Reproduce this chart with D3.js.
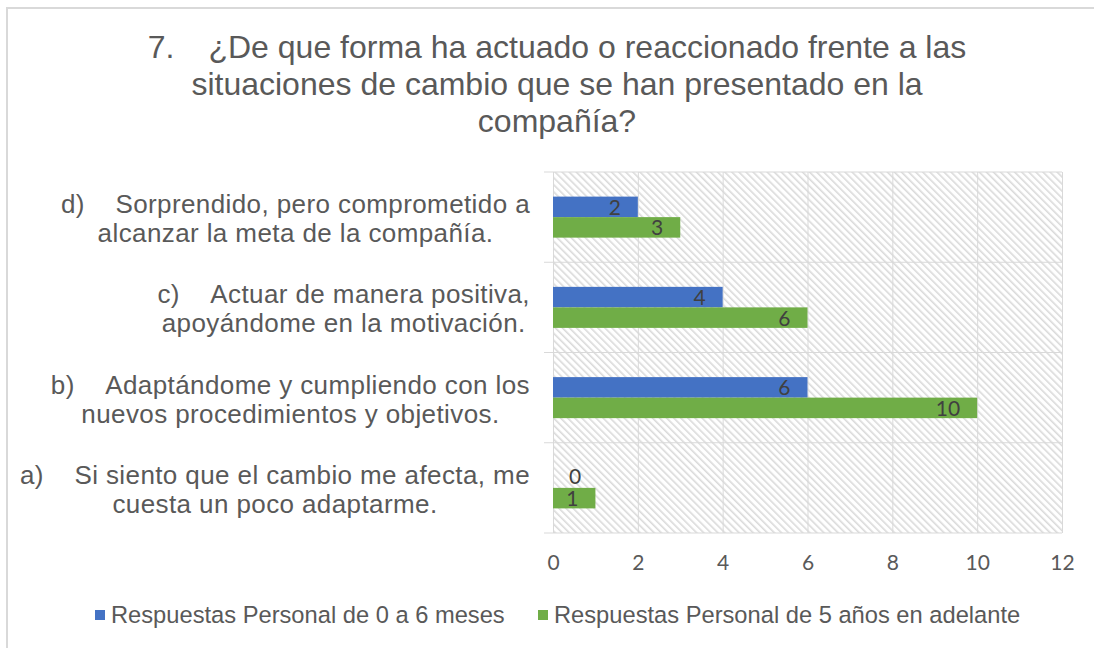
<!DOCTYPE html>
<html>
<head>
<meta charset="utf-8">
<script src="https://cdn.jsdelivr.net/npm/d3@7"></script>
<style>
  body { margin:0; background:#fff; }
  svg { display:block; }
  text { font-family: "Liberation Sans", Arial, sans-serif; }
  .num { font-family: Lato, "Liberation Sans", sans-serif; }
</style>
</head>
<body>
<div id="canvas"></div>
<script>
// data
var categories = ['a', 'b', 'c', 'd'];
var categoryLabels = [
    ['a)\u00a0\u00a0\u00a0\u00a0Si siento que el cambio me afecta, me', 'cuesta un poco adaptarme.'],
    ['b)\u00a0\u00a0\u00a0\u00a0Adaptándome y cumpliendo con los', 'nuevos procedimientos y objetivos.'],
    ['c)\u00a0\u00a0\u00a0\u00a0Actuar de manera positiva,', 'apoyándome en la motivación.'],
    ['d)\u00a0\u00a0\u00a0\u00a0Sorprendido, pero comprometido a', 'alcanzar la meta de la compañía.']
];
var seriesNames = ['Respuestas Personal de 0 a 6 meses', 'Respuestas Personal de 5 años en adelante'];
var serieMeses = [0, 6, 4, 2];
var serieAnios = [1, 10, 6, 3];
var xTicks = [0, 2, 4, 6, 8, 10, 12];
var titleLines = ['7.', '¿De que forma ha actuado o reaccionado frente a las',
    'situaciones de cambio que se han presentado en la', 'compañía?'];

var colors = ['#4472C4', '#70AD47'];
var W = 1094, H = 648;
var m = {t:172, r:32, b:115, l:553};

var svg = d3.select('#canvas').append('svg')
    .attr('width', W).attr('height', H);

// hatch pattern for the plot area
var defs = svg.append('defs');
var pat = defs.append('pattern')
    .attr('id', 'hatch')
    .attr('patternUnits', 'userSpaceOnUse')
    .attr('width', 5).attr('height', 5)
    .attr('patternTransform', 'rotate(-45)');
pat.append('rect').attr('width', 5).attr('height', 5).attr('fill', '#fff');
pat.append('rect').attr('width', 1.6).attr('height', 5).attr('fill', '#dadada');

// outer frame (only top and left visible)
svg.append('line').attr('x1', 6).attr('y1', 8).attr('x2', W).attr('y2', 8)
    .attr('stroke', '#d9d9d9').attr('stroke-width', 2);
svg.append('line').attr('x1', 7).attr('y1', 8).attr('x2', 7).attr('y2', H)
    .attr('stroke', '#d9d9d9').attr('stroke-width', 2);

// title
var title = svg.append('text')
    .attr('text-anchor', 'middle')
    .attr('fill', '#595959')
    .style('font-size', '32px');
title.append('tspan').attr('x', 557).attr('y', 58).text(titleLines[0])
    .append('tspan').attr('dx', 34).text(titleLines[1]);
title.append('tspan').attr('x', 557).attr('y', 95).text(titleLines[2]);
title.append('tspan').attr('x', 557).attr('y', 132).text(titleLines[3]);

// scales
var x = d3.scaleLinear().domain([0, 12]).range([m.l, W - m.r]);
var y = d3.scaleBand().domain(categories.slice().reverse()).range([m.t, H - m.b]);
var ySub = d3.scaleBand().domain([0, 1]).range([0, y.bandwidth()])
    .paddingInner(0).paddingOuter(1.2);

var plot = svg.append('g');

plot.append('rect')
    .attr('x', x(0)).attr('y', m.t)
    .attr('width', x(12) - x(0)).attr('height', H - m.b - m.t)
    .attr('fill', 'url(#hatch)');

// vertical gridlines
var axisX = d3.axisBottom(x).tickValues(xTicks).tickSize(-(H - m.b - m.t)).tickPadding(22);
var gx = plot.append('g')
    .attr('transform', 'translate(0,' + (H - m.b) + ')')
    .call(axisX);
gx.select('.domain').remove();
gx.selectAll('line').attr('stroke', '#d9d9d9');
gx.selectAll('text').attr('class', 'num').attr('fill', '#595959')
    .style('font-size', '21px');

// horizontal category lines with outside ticks
var bounds = categories.map(function(c){ return y(c); }).concat([H - m.b]);
plot.selectAll('.hline').data(bounds).enter().append('line')
    .attr('class', 'hline')
    .attr('x1', x(0) - 9).attr('x2', x(12))
    .attr('y1', function(d){ return d; }).attr('y2', function(d){ return d; })
    .attr('stroke', '#d9d9d9');

// bars
var rows = categories.map(function(c, i){
    return {cat:c, vals:[serieMeses[i], serieAnios[i]]};
});
var groups = plot.selectAll('.cat').data(rows).enter().append('g')
    .attr('class', 'cat')
    .attr('transform', function(d){ return 'translate(0,' + y(d.cat) + ')'; });

groups.selectAll('rect').data(function(d){ return d.vals; }).enter().append('rect')
    .attr('x', x(0))
    .attr('y', function(d, i){ return ySub(i); })
    .attr('width', function(d){ return x(d) - x(0); })
    .attr('height', ySub.bandwidth())
    .attr('fill', function(d, i){ return colors[i]; });

groups.selectAll('.lbl').data(function(d){ return d.vals; }).enter().append('text')
    .attr('class', 'lbl num')
    .attr('x', function(d){ return d === 0 ? x(0) + 22 : x(d) - 17; })
    .attr('text-anchor', function(d){ return d === 0 ? 'middle' : 'end'; })
    .attr('y', function(d, i){ return ySub(i) + ySub.bandwidth() / 2; })
    .attr('dy', function(d){ return d === 0 ? '0.3em' : '0.38em'; })
    .attr('fill', '#404040')
    .style('font-size', '21px')
    .text(function(d){ return d; });

// category labels: centred block, widest line ends at 530
categories.forEach(function(c, i){
    var t = svg.append('text')
        .attr('text-anchor', 'middle')
        .attr('fill', '#595959')
        .style('font-size', '26px')
        .style('letter-spacing', '0.4px');
    var spans = categoryLabels[i].map(function(line, k){
        return t.append('tspan').attr('y', y(c) + y.bandwidth() / 2 - 4 + k * 29).text(line);
    });
    var wMax = d3.max(spans, function(s){ return s.node().getComputedTextLength(); });
    spans.forEach(function(s){ s.attr('x', 530 - wMax / 2); });
});

// legend
var legend = svg.append('g');
var lx = [95, 538];
seriesNames.forEach(function(name, i){
    legend.append('rect')
        .attr('x', lx[i]).attr('y', 610).attr('width', 10).attr('height', 10)
        .attr('fill', colors[i]);
    legend.append('text')
        .attr('x', lx[i] + 16).attr('y', 623)
        .attr('fill', '#595959')
        .style('font-size', '23.7px')
        .text(name);
});
</script>
</body>
</html>
